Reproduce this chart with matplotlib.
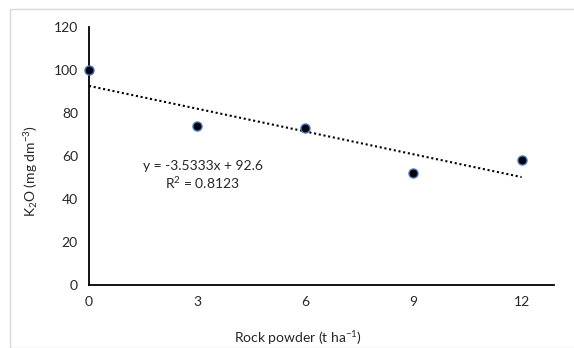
import matplotlib.pyplot as plt
from matplotlib.patches import Rectangle
import numpy as np

plt.rcParams['font.family'] = ['Lato', 'DejaVu Sans']
plt.rcParams['mathtext.fontset'] = 'custom'
plt.rcParams['mathtext.rm'] = 'Lato'
plt.rcParams['mathtext.it'] = 'Lato'
plt.rcParams['mathtext.default'] = 'regular'

dose = [0, 3, 6, 9, 12]
k2o = [100, 74, 73, 52, 58]
slope = -3.5333
intercept = 92.6
r2 = 0.8123

fig = plt.figure(figsize=(5.74, 3.48), dpi=100)
ax = fig.add_axes([89 / 574, 1 - 285 / 348, (554 - 89) / 574, (285 - 27) / 348])

# borde gris del grafico
fig.patches.append(Rectangle((10 / 574, 0), 1, 1 - 9 / 348, transform=fig.transFigure,
                             fill=False, edgecolor='#d9d9d9', linewidth=1))

xt = np.array([0, 12])
ax.plot(xt, slope * xt + intercept, linestyle=(0, (1, 1.3)), color='black', linewidth=1.5)
ax.scatter(dose, k2o, s=42, color='black', edgecolors='#4472c4', linewidths=1, zorder=3,
           clip_on=False)

ax.text(3.15, 51, 'y = %.4fx + %.1f\nR$^2$ = %.4f' % (slope, intercept, r2), ha='center',
        va='center', fontsize=10, color='#262626', linespacing=1.25)

ax.set_xlim(0, 12.9)
ax.set_ylim(0, 120)
ax.set_xticks(dose)
ax.set_yticks(range(0, 121, 20))
ax.tick_params(length=0, labelsize=10, colors='#262626', pad=8)
for s in ['top', 'right']:
    ax.spines[s].set_visible(False)
for s in ['left', 'bottom']:
    ax.spines[s].set_linewidth(1.3)
ax.set_xlabel('Rock powder (t ha$^{-1}$)', fontsize=10, color='#262626')
ax.set_ylabel('K$_2$O (mg dm$^{-3}$)', fontsize=10, color='#262626')
ax.xaxis.set_label_coords(0.45, -0.17)
ax.yaxis.set_label_coords(-0.105, 0.44)

fig.savefig('out.png', dpi=100)
